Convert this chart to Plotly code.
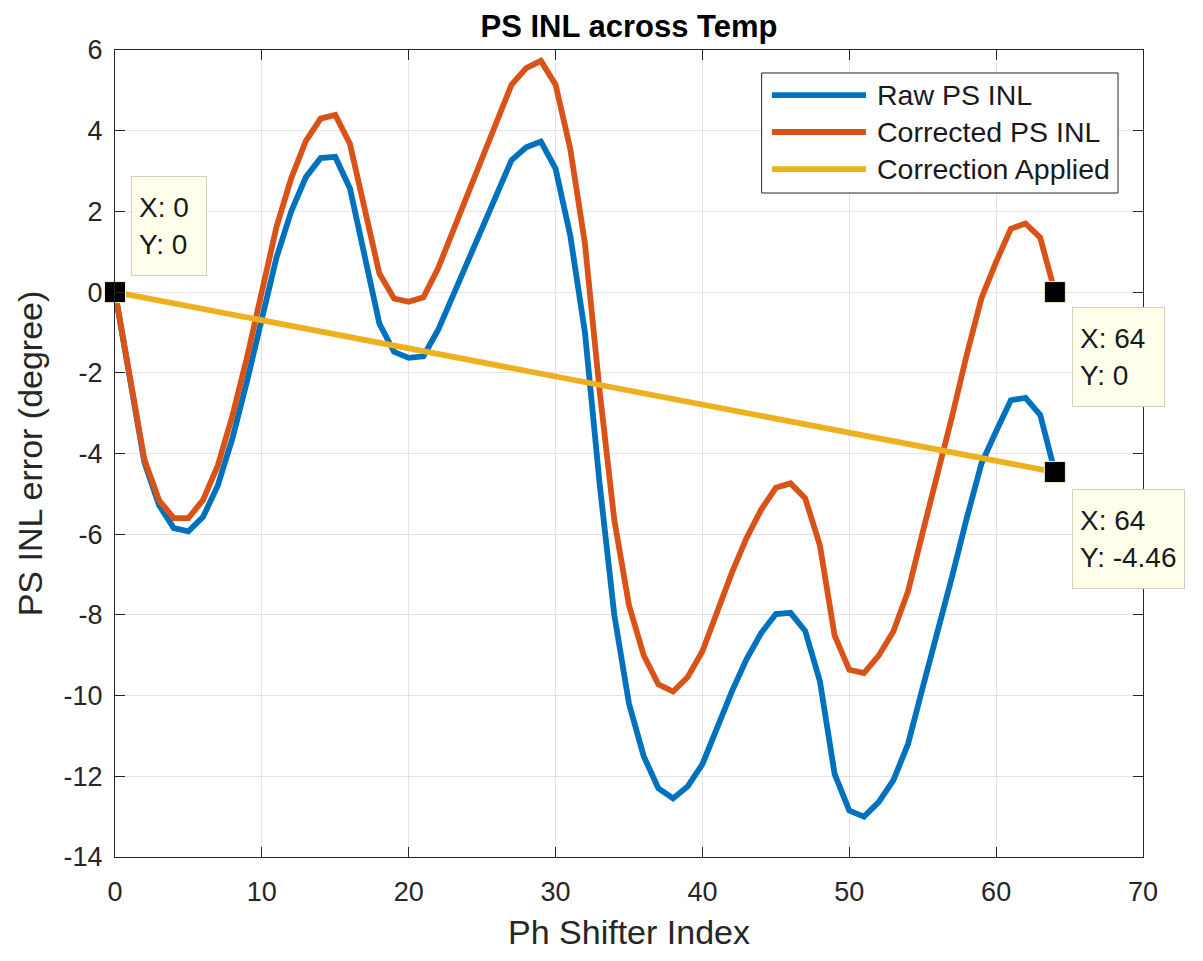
import plotly.graph_objects as go

# ---------------- data ----------------
ps_index = list(range(0, 65))

raw_inl = [
    0.0, -2.15, -4.22, -5.28, -5.85, -5.93, -5.57, -4.79, -3.62, -2.19,
    -0.66, 0.86, 2.0, 2.85, 3.32, 3.35, 2.57, 0.95, -0.78, -1.48,
    -1.63, -1.59, -0.94, -0.1, 0.74, 1.58, 2.43, 3.27, 3.59, 3.73,
    3.06, 1.4, -1.0, -4.75, -8.0, -10.2, -11.5, -12.3, -12.55, -12.25,
    -11.7, -10.8, -9.9, -9.1, -8.45, -7.98, -7.95, -8.4, -9.64, -11.94,
    -12.85, -13.0, -12.64, -12.1, -11.2, -9.8, -8.45, -7.05, -5.6, -4.25,
    -3.45, -2.68, -2.62, -3.04, -4.46,
]

corrected_inl = [
    0.0, -2.08, -4.15, -5.16, -5.6, -5.6, -5.15, -4.3, -3.06, -1.6,
    0.05, 1.62, 2.82, 3.75, 4.3, 4.39, 3.67, 2.1, 0.46, -0.16,
    -0.24, -0.13, 0.59, 1.5, 2.41, 3.31, 4.22, 5.14, 5.55, 5.73,
    5.14, 3.55, 1.2, -2.45, -5.65, -7.76, -9.0, -9.72, -9.9, -9.54,
    -8.9, -7.92, -6.96, -6.1, -5.39, -4.85, -4.74, -5.11, -6.28, -8.51,
    -9.36, -9.44, -9.01, -8.41, -7.42, -5.95, -4.55, -3.08, -1.55, -0.15,
    0.75, 1.57, 1.7, 1.35, 0.0,
]

correction_x = [0, 64]
correction_y = [0.0, -4.46]

tip_x = [0, 64, 64]
tip_y = [0.0, 0.0, -4.46]
tip_labels = ["X: 0<br>Y: 0", "X: 64<br>Y: 0", "X: 64<br>Y: -4.46"]

series_names = ["Raw PS INL", "Corrected PS INL", "Correction Applied"]
series_colors = ["#0072BD", "#D95319", "#EDB120"]

x_ticks = [0, 10, 20, 30, 40, 50, 60, 70]
y_ticks = [-14, -12, -10, -8, -6, -4, -2, 0, 2, 4, 6]

FONT = "Liberation Sans, Arial, Helvetica, sans-serif"
LW = 5.8

fig = go.Figure()
fig.add_trace(go.Scatter(x=ps_index, y=raw_inl, mode="lines", name=series_names[0],
                         line=dict(color=series_colors[0], width=LW), showlegend=False))
fig.add_trace(go.Scatter(x=ps_index, y=corrected_inl, mode="lines", name=series_names[1],
                         line=dict(color=series_colors[1], width=LW), showlegend=False))
fig.add_trace(go.Scatter(x=correction_x, y=correction_y, mode="lines", name=series_names[2],
                         line=dict(color=series_colors[2], width=LW), showlegend=False))
fig.add_trace(go.Scatter(x=tip_x, y=tip_y, mode="markers", showlegend=False,
                         marker=dict(symbol="square", size=21, color="black",
                                     line=dict(color="#F2F0C8", width=1)),
                         cliponaxis=False))

# datatip boxes (MATLAB data-cursor style)
tip_style = [(16, 16, "bottom", 60), (17, -15, "top", 77), (17, -17, "top", None)]
for (tx, ty, lab), (xs, ys, ya, wd) in zip(zip(tip_x, tip_y, tip_labels), tip_style):
    fig.add_annotation(x=tx, y=ty, xref="x", yref="y", text=lab, showarrow=False,
                       xanchor="left", yanchor=ya, xshift=xs, yshift=ys, align="left",
                       height=84, width=wd, valign="middle",
                       bgcolor="#FFFFEB", bordercolor="#D0D0C0", borderwidth=1, borderpad=7,
                       font=dict(family=FONT, size=28, color="#1a1a1a"))

# custom MATLAB-like legend
lx0, lx1, ly0, ly1 = 0.629, 0.9757, 0.8228, 0.9715
fig.add_shape(type="rect", xref="paper", yref="paper", x0=lx0, x1=lx1, y0=ly0, y1=ly1,
              line=dict(color="#262626", width=1), fillcolor="white", layer="above")
leg_y = [0.9442, 0.8984, 0.8525]
for name, col, yy in zip(series_names, series_colors, leg_y):
    fig.add_shape(type="line", xref="paper", yref="paper", x0=0.639, x1=0.7305, y0=yy, y1=yy,
                  line=dict(color=col, width=LW), layer="above")
    fig.add_annotation(x=0.7393, y=yy, xref="paper", yref="paper", text=name, showarrow=False,
                       xanchor="left", yanchor="middle",
                       font=dict(family=FONT, size=28.5, color="#1a1a1a"))

axis_common = dict(showline=True, linecolor="#262626", linewidth=1.2, mirror="allticks",
                   ticks="inside", ticklen=10, tickcolor="#262626", tickwidth=1.2,
                   showgrid=True, gridcolor="#E3E3E3", gridwidth=1, zeroline=False,
                   tickfont=dict(family=FONT, size=27, color="#262626"))

fig.update_xaxes(range=[0, 70], tickvals=x_ticks, ticktext=[str(v) for v in x_ticks],
                 ticklabelstandoff=10, **axis_common,
                 title=dict(text="Ph Shifter Index", standoff=14,
                            font=dict(family=FONT, size=34, color="#262626")))
fig.update_yaxes(range=[-14, 6], tickvals=y_ticks, ticktext=[str(v) for v in y_ticks],
                 ticklabelstandoff=6, **axis_common,
                 title=dict(text="PS INL error (degree)", standoff=10,
                            font=dict(family=FONT, size=34, color="#262626")))

fig.update_layout(
    width=1203, height=961,
    margin=dict(l=107, r=68, t=42, b=112, autoexpand=False),
    paper_bgcolor="white", plot_bgcolor="white",
    title=dict(text="<b>PS INL across Temp</b>", x=0.5, xref="paper", xanchor="center",
               y=0.9815, yanchor="middle", font=dict(family=FONT, size=31, color="black")),
    showlegend=False,
)

fig.write_html("out.html")
